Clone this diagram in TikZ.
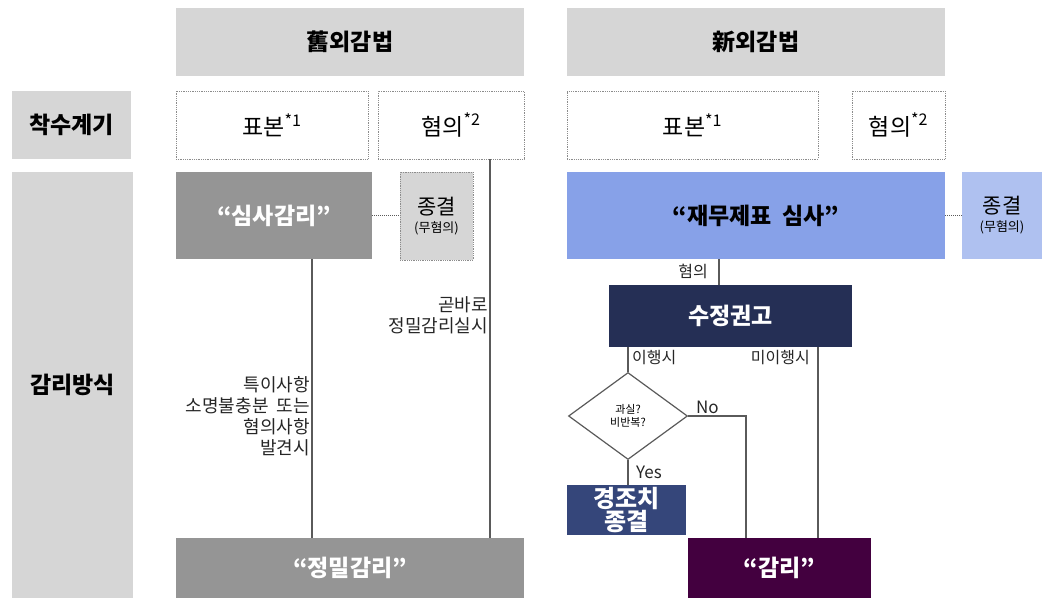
\documentclass[tikz,border=0pt]{standalone}
\usepackage{fontspec}
\setmainfont{Noto Sans CJK KR}
\usetikzlibrary{shapes.geometric,calc}
\definecolor{hdr}{HTML}{D6D6D6}
\definecolor{midgray}{HTML}{959595}
\definecolor{linec}{HTML}{5A5A5A}
\definecolor{dotc}{HTML}{8C8C8C}
\definecolor{blue1}{HTML}{87A1E8}
\definecolor{blue2}{HTML}{AFC1F0}
\definecolor{navy}{HTML}{252F55}
\definecolor{navy2}{HTML}{35467A}
\definecolor{purp}{HTML}{43003F}
\tikzset{
  rbox/.style={anchor=north west, inner sep=0pt, outer sep=0pt, align=center},
  hdrbox/.style={rbox, fill=hdr, font=\bfseries\fontsize{23}{26}\selectfont},
  dotbox/.style={rbox, draw=dotc, densely dotted, line width=0.8pt, font=\fontsize{23}{26}\selectfont},
  darkbox/.style={rbox, text=white, font=\bfseries\fontsize{23}{26}\selectfont},
  endbox/.style={rbox, font=\fontsize{21}{21}\selectfont},
  conn/.style={draw=linec, line width=1.3pt},
  dconn/.style={draw=linec, densely dotted, line width=1pt},
  lbl/.style={inner sep=0pt, font=\fontsize{18}{21}\selectfont, text=black!85, align=right},
  slbl/.style={inner sep=0pt, font=\fontsize{16}{18}\selectfont, text=black!85},
}
\begin{document}
\begin{tikzpicture}[x=1pt,y=-1pt]
\useasboundingbox (0,0) rectangle (1042,598);
% headers
\node[hdrbox, minimum width=348pt, minimum height=68pt] (old) at (176,8) {舊외감법};
\node[hdrbox, minimum width=378pt, minimum height=68pt] (new) at (567,8) {新외감법};
\node[hdrbox, minimum width=119pt, minimum height=68pt] (chak) at (12,91) {착수계기};
\node[hdrbox, minimum width=121pt, minimum height=426pt] (gam) at (12,172) {감리방식};
% trigger boxes
\node[dotbox, minimum width=192pt, minimum height=68pt] (pb1) at (176,91) {표본\textsuperscript{*1}};
\node[dotbox, minimum width=146pt, minimum height=68pt] (hy1) at (378,91) {혐의\textsuperscript{*2}};
\node[dotbox, minimum width=251pt, minimum height=68pt] (pb2) at (567,91) {표본\textsuperscript{*1}};
\node[dotbox, minimum width=93pt, minimum height=68pt] (hy2) at (852,91) {혐의\textsuperscript{*2}};
% old side
\node[darkbox, fill=midgray, minimum width=196pt, minimum height=87pt] (sim) at (176,172) {“심사감리”};
\node[endbox, fill=hdr, draw=dotc, densely dotted, line width=0.8pt, minimum width=73pt, minimum height=88pt] (end1) at (400,172) {종결\\[-3pt]{\fontsize{13}{14}\selectfont(무혐의)}};
\node[darkbox, fill=midgray, minimum width=348pt, minimum height=60pt] (jm) at (176,538) {“정밀감리”};
% new side
\node[darkbox, fill=blue1, text=black, minimum width=378pt, minimum height=87pt] (jae) at (567,172) {“재무제표\ \ 심사”};
\node[endbox, fill=blue2, minimum width=80pt, minimum height=87pt] (end2) at (962,172) {종결\\[-3pt]{\fontsize{13}{14}\selectfont(무혐의)}};
\node[darkbox, fill=navy, minimum width=243pt, minimum height=62pt] (sj) at (609,285) {수정권고};
\node[draw=linec, line width=1.2pt, diamond, aspect=1.37, minimum width=119pt, minimum height=87pt, inner sep=0pt, font=\fontsize{11}{13}\selectfont, align=center] (dia) at (628,416) {과실?\\비반복?};
\node[darkbox, fill=navy2, minimum width=119pt, minimum height=50pt, font=\bfseries\fontsize{24}{23}\selectfont] (gj) at (567,485) {경조치\\종결};
\node[darkbox, fill=purp, minimum width=183pt, minimum height=60pt] (gr) at (688,538) {“감리”};
% connectors old
\draw[dconn] (sim.east) -- (end1.west |- sim.east);
\draw[conn] ([xshift=38pt]sim.south) -- ([xshift=38pt]sim.south |- jm.north);
\draw[conn] ([xshift=39pt]hy1.south) -- ([xshift=39pt]hy1.south |- jm.north);
\node[lbl, anchor=north east] (t1) at (488,296) {곧바로\\정밀감리실시};
\node[lbl, anchor=north east] (t2) at (310,376) {특이사항\\소명불충분\ \ 또는\\혐의사항\\발견시};
% connectors new
\draw[dconn] (jae.east) -- (end2.west);
\draw[conn] ([xshift=-37pt]jae.south) -- ([xshift=-37pt]jae.south |- sj.north);
\node[slbl, anchor=east] (t3) at (708,271) {혐의};
\draw[conn] (dia.north) -- (dia.north |- sj.south);
\coordinate (c1) at (818,347);
\draw[conn] (c1) -- (c1 |- gr.north);
\node[slbl, anchor=west] (t4) at (632,358) {이행시};
\node[slbl, anchor=east] (t5) at (810,358) {미이행시};
\coordinate (c2) at (746,416);
\draw[conn] (dia.east) -- (c2) -- (c2 |- gr.north);
\node[slbl, font=\fontsize{17}{18}\selectfont, anchor=west] (t6) at (696,407) {No};
\draw[conn] (dia.south) -- (dia.south |- gj.north);
\node[slbl, font=\fontsize{17}{18}\selectfont, anchor=west] (t7) at (636,472) {Yes};
\end{tikzpicture}
\end{document}
